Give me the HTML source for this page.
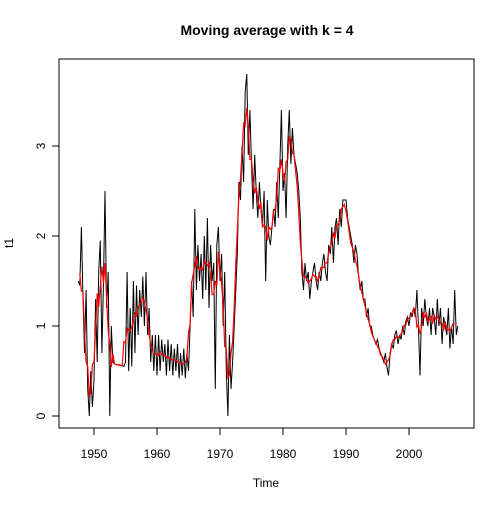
<!DOCTYPE html>
<html><head><meta charset="utf-8"><style>
body{margin:0;background:#fff}
svg text{font-family:"Liberation Sans",Arial,sans-serif;font-size:12px}
</style></head><body>
<svg id="chart" width="504" height="504">
<text x="267" y="35" text-anchor="middle" style="font-weight:bold;font-size:14px">Moving average with k = 4</text>
<rect x="59" y="59" width="415" height="369" fill="none" stroke="#000"/>
<text x="266" y="487" text-anchor="middle">Time</text>
<text transform="translate(13,243) rotate(-90)" text-anchor="middle">t1</text>
<g id="axes"></g>
<g id="series"></g>
</svg>
<script>
const startYear = 1947.5;
const xTicks = [1950,1960,1970,1980,1990,2000];
const yTicks = [0,1,2,3];
const values = [
1.5,1.45,
2.1,1.3,0.7,1.4, 0.3,0.0,0.5,0.1, 0.4,1.3,0.6,1.6, 1.95,0.7,1.5,2.5, 1.2,1.6,0.0,1.0,
0.6,0.58,0.57,0.57, 0.57,0.56,0.56,0.55, 0.6,1.6,0.5,1.2, 0.55,1.5,0.7,1.45, 0.9,1.4,1.1,1.55,
1.0,1.6,0.9,1.2, 0.6,0.9,0.5,0.9, 0.45,0.9,0.5,0.85, 0.6,0.8,0.45,0.85, 0.5,0.8,0.45,0.75,
0.5,0.8,0.42,0.7, 0.45,0.75,0.42,0.7, 0.5,1.0,1.5,1.1, 2.3,1.4,1.9,1.5, 1.8,1.3,2.0,1.4,
2.2,1.2,1.9,1.5, 1.7,0.3,1.9,2.1, 1.5,1.8,1.0,1.6, 0.5,0.0,0.9,0.3, 0.6,1.0,1.4,1.8,
2.6,2.4,3.0,2.6, 3.6,3.8,2.9,3.4, 2.8,2.3,2.9,2.5, 2.2,2.6,2.3,2.1, 2.5,1.5,2.4,2.0,
1.9,2.1,2.3,2.1, 2.6,2.2,2.8,3.4, 2.5,2.7,2.2,3.0, 3.4,2.8,3.2,2.9, 2.8,2.7,2.5,2.2,
1.6,1.4,1.7,1.5, 1.6,1.3,1.5,1.6, 1.7,1.5,1.4,1.6, 1.5,1.7,1.8,1.6, 1.5,1.9,1.8,2.1,
1.7,2.1,2.2,1.9, 2.3,2.1,2.4,2.4, 2.4,2.2,2.1,2.0, 1.9,1.7,1.9,1.8, 1.55,1.4,1.5,1.3,
1.3,1.1,1.2,1.0, 1.0,0.9,0.85,0.8, 0.85,0.75,0.7,0.65, 0.6,0.7,0.55,0.45, 0.7,0.8,0.75,0.9,
0.95,0.8,0.9,0.85, 1.0,0.9,1.05,1.1, 1.0,1.15,1.1,1.2, 1.1,1.4,1.0,0.45, 1.2,1.0,1.3,1.1,
1.0,1.2,0.9,1.2, 1.1,0.9,1.3,1.0, 1.2,0.8,1.1,1.0, 0.9,1.2,0.75,1.0, 0.8,1.4,0.9,1.0
];
const step = 0.25;
const k = 4;
const NS="http://www.w3.org/2000/svg";
function xs(y){return 94+(y-1950)*6.3;}
function ys(v){return 416-v*90;}
const axes=document.getElementById('axes'), series=document.getElementById('series');
function mk(tag,at,parent){const e=document.createElementNS(NS,tag);for(const a in at)e.setAttribute(a,at[a]);parent.appendChild(e);return e;}
const xl=mk('line',{x1:xs(1950),x2:xs(2000),y1:428,y2:428,stroke:'#000'},axes);


xTicks.forEach(t=>{
  const l=mk('line',{x1:xs(t),x2:xs(t),y1:428,y2:435,stroke:'#000'},axes);
  
  
  const tx=mk('text',{x:xs(t),y:458,'text-anchor':'middle'},axes);tx.textContent=t;
  
  
});
const yl=mk('line',{x1:59,x2:59,y1:ys(0),y2:ys(3),stroke:'#000'},axes);


yTicks.forEach(t=>{
  const l=mk('line',{x1:52,x2:59,y1:ys(t),y2:ys(t),stroke:'#000'},axes);
  
  
  const tx=mk('text',{transform:`translate(45,${ys(t)}) rotate(-90)`,'text-anchor':'middle'},axes);tx.textContent=t;
  
  
});
const pts=values.map((v,i)=>xs(startYear+i*step).toFixed(1)+','+ys(v).toFixed(1)).join(' ');
const raw=mk('polyline',{points:pts,fill:'none',stroke:'#000','stroke-width':1},series);


const ma=[];
for(let i=1;i<values.length-2;i++){let s=0;for(let j=i-1;j<=i+2;j++)s+=values[j];ma.push(xs(startYear+i*step).toFixed(1)+','+ys(s/k).toFixed(1));}
const red=mk('polyline',{points:ma.join(' '),fill:'none',stroke:'#f00','stroke-width':1.2},series);


</script>
</body></html>
